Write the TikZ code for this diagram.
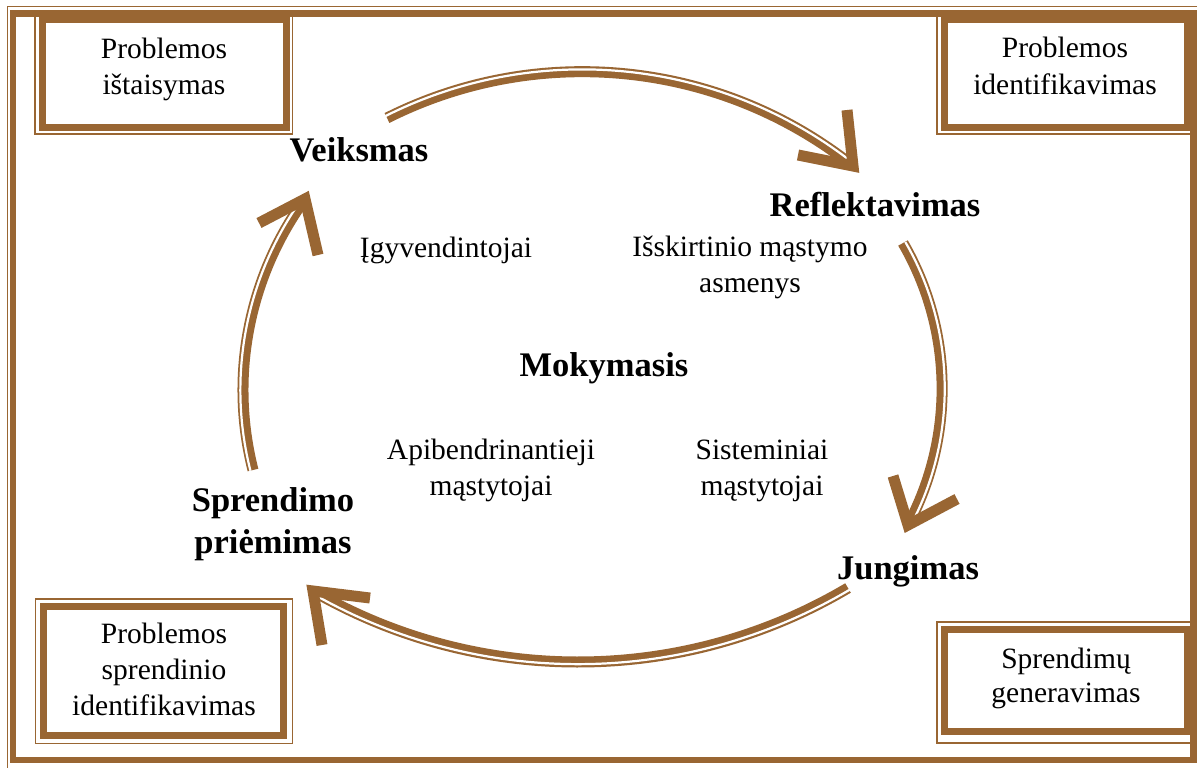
\documentclass[tikz,border=0pt]{standalone}
\usepackage{fontspec}
\setmainfont{Liberation Serif}
\definecolor{bronze}{RGB}{153,102,51}
\begin{document}
\begin{tikzpicture}[x=1pt,y=-1pt,
  hairline/.style={draw=bronze, line width=1.5pt},
  frameline/.style={draw=bronze, line width=6.5pt},
  boxthick/.style={draw=bronze, line width=7pt},
  boxthin/.style={draw=bronze, line width=1.5pt},
  cycleline/.style={draw=bronze, line width=11pt},
  cyclegap/.style={draw=white, line width=2.2pt,
    transform canvas={shift={(-4.455,-2.8125)}, scale=1.0075}},
  barb/.style={draw=bronze, line width=11pt, line join=miter, line cap=butt},
  boxtext/.style={align=center, font=\fontsize{29.5}{36}\selectfont, inner sep=0pt, anchor=base},
  stage/.style={align=center, font=\fontsize{34.5}{42}\selectfont\bfseries, inner sep=0pt, anchor=base},
  note/.style={align=center, font=\fontsize{29.5}{36}\selectfont, inner sep=0pt, anchor=base},
]
\useasboundingbox (0,0) rectangle (1199,768);
\fill[white] (0,0) rectangle (1199,768);

% page frame: hairline outside, heavy band inside
\draw[hairline] (1197,6.7) -- (7.3,6.7) -- (7.3,768);
\draw[frameline] (13,13.5) rectangle (1193.5,760);

% corner boxes with double borders
\draw[boxthin] (35,13) rectangle (292.5,134);
\draw[boxthick] (42,20) rectangle (286,127);
\draw[boxthin] (937,13) rectangle (1193.5,134);
\draw[boxthick] (944,20) rectangle (1187,127.5);
\draw[boxthin] (35.5,599) rectangle (292.5,743.5);
\draw[boxthick] (43,606.5) rectangle (283.5,735);
\draw[boxthin] (937,622) rectangle (1193.5,743);
\draw[boxthick] (944,629.5) rectangle (1187.5,731.5);

% multi-line nodes are placed by the baseline of their last line
\node[boxtext] (fix) at (164,95) {Problemos\\ištaisymas};
\node[boxtext] (ident) at (1065,94) {Problemos\\identifikavimas};
\node[boxtext] (solid) at (164,715) {Problemos\\sprendinio\\identifikavimas};
\node[boxtext, font=\fontsize{29.5}{34}\selectfont] (gen) at (1066,702) {Sprendimų\\generavimas};

% cycle arcs (circular arcs as cubic curves)
\coordinate (ta0) at (387,118);
\coordinate (ta1) at (538.3,41.9);
\coordinate (ta2) at (720.3,60.7);
\coordinate (ta3) at (853,166);
\coordinate (ra0) at (903,243);
\coordinate (ra1) at (953.3,329.8);
\coordinate (ra2) at (955.2,436.5);
\coordinate (ra3) at (908,525);
\coordinate (ba0) at (848,588);
\coordinate (ba1) at (683.3,685.6);
\coordinate (ba2) at (478.8,686.7);
\coordinate (ba3) at (313,591);
\coordinate (la0) at (253,470);
\coordinate (la1) at (229.2,376.5);
\coordinate (la2) at (248.3,277.1);
\coordinate (la3) at (305,199);

\foreach \a in {ta,ra,ba,la}{
  \draw[cycleline] (\a0) .. controls (\a1) and (\a2) .. (\a3);
  \draw[cyclegap] (\a0) .. controls (\a1) and (\a2) .. (\a3);
}

% arrow heads
\coordinate (h1a) at (847,110);
\coordinate (h1b) at (798,155);
\coordinate (h2a) at (259,223);
\coordinate (h2b) at (318,255);
\coordinate (h3a) at (893,476);
\coordinate (h3b) at (957,499);
\coordinate (h4a) at (370,598);
\coordinate (h4b) at (322,645);
\draw[barb] (h1a) -- (ta3) -- (h1b);
\draw[barb] (h2a) -- (la3) -- (h2b);
\draw[barb] (h3a) -- (ra3) -- (h3b);
\draw[barb] (h4a) -- (ba3) -- (h4b);

% stage labels
\node[stage] (act) at (359,161) {Veiksmas};
\node[stage] (refl) at (875,216) {Reflektavimas};
\node[stage] (join) at (908,579) {Jungimas};
\node[stage] (dec) at (273,553) {Sprendimo\\priėmimas};
\node[stage] (learn) at (604,376) {Mokymasis};

% thinker types
\node[note] (impl) at (446,257) {Įgyvendintojai};
\node[note] (excep) at (750,292) {Išskirtinio mąstymo\\asmenys};
\node[note] (gener) at (491,495) {Apibendrinantieji\\mąstytojai};
\node[note] (syst) at (762,495) {Sisteminiai\\mąstytojai};
\end{tikzpicture}
\end{document}
